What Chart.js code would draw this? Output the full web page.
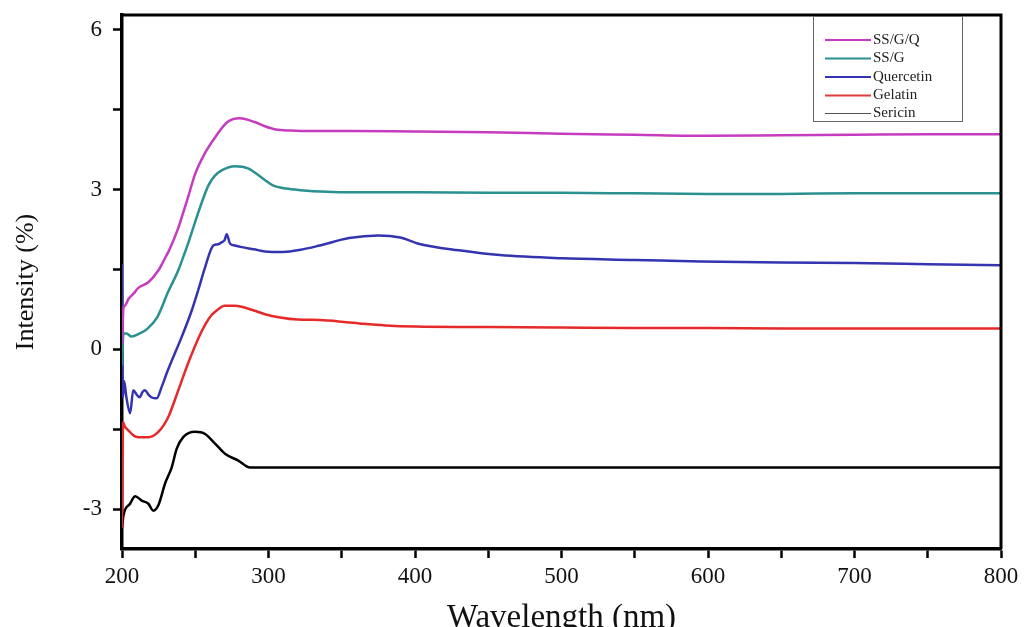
<!DOCTYPE html>
<html>
<head>
<meta charset="utf-8">
<script src="https://cdn.jsdelivr.net/npm/chart.js@4.4.1/dist/chart.umd.min.js"></script>
<style>
  body { margin: 0; background: #fff; }
  canvas { display: block; }
</style>
</head>
<body>
<canvas id="chart" width="1025" height="627"></canvas>
<script>
// wavelength (nm) / intensity (%)
const ssgqWl = [200, 201, 202, 204.5, 208, 211, 218, 225, 229.5, 232, 238, 241, 245, 250, 256.5, 263.5, 272, 280.5, 290.5, 297.5, 305, 315, 330, 356, 400, 450, 500, 550, 600, 650, 700, 750, 800];
const ssgq = [0.1, 0.78, 0.82, 0.95, 1.05, 1.15, 1.26, 1.49, 1.72, 1.85, 2.25, 2.5, 2.85, 3.3, 3.68, 3.98, 4.27, 4.34, 4.27, 4.19, 4.13, 4.11, 4.1, 4.1, 4.09, 4.08, 4.05, 4.03, 4.01, 4.02, 4.03, 4.04, 4.04];

const ssgWl = [200, 201, 203, 206.5, 212, 217, 224, 231.5, 238.5, 242, 245.5, 250, 255, 259, 263, 268, 277, 286, 297.5, 303, 312, 322, 340, 356, 400, 450, 500, 550, 600, 650, 700, 750, 800];
const ssg = [-0.3, 0.3, 0.3, 0.24, 0.3, 0.38, 0.6, 1.08, 1.49, 1.75, 2.02, 2.4, 2.8, 3.08, 3.25, 3.36, 3.44, 3.4, 3.18, 3.08, 3.02, 2.99, 2.96, 2.95, 2.95, 2.94, 2.94, 2.93, 2.92, 2.92, 2.93, 2.93, 2.93];

const querWl = [200, 200.6, 201.5, 203, 205.5, 207.7, 210, 212, 214, 215.7, 218, 220, 223.7, 227, 230.5, 234, 240.7, 247.6, 252, 256.7, 262.3, 265, 268, 270, 271.5, 273.7, 277, 281.7, 290, 297.6, 310, 322, 335, 355, 375, 390, 403, 430, 458, 500, 550, 595, 650, 700, 750, 800];
const quer = [1.6, -0.9, -0.6, -0.9, -1.2, -0.77, -0.85, -0.9, -0.8, -0.77, -0.85, -0.9, -0.92, -0.71, -0.45, -0.21, 0.23, 0.73, 1.11, 1.54, 1.95, 1.97, 2.01, 2.05, 2.16, 1.99, 1.95, 1.92, 1.88, 1.84, 1.83, 1.87, 1.95, 2.09, 2.14, 2.1, 1.98, 1.86, 1.77, 1.71, 1.68, 1.65, 1.63, 1.62, 1.6, 1.58];

const gelWl = [200, 200.7, 202, 204.3, 208, 211, 218, 224.8, 231.6, 238.4, 245, 252, 256.5, 261, 265.5, 270, 277, 281.7, 290, 297.6, 308, 320, 335, 350, 365, 380, 400, 450, 500, 550, 600, 650, 700, 750, 800];
const gel = [-3.35, -1.37, -1.45, -1.52, -1.62, -1.65, -1.65, -1.55, -1.27, -0.77, -0.27, 0.2, 0.45, 0.64, 0.75, 0.82, 0.82, 0.8, 0.73, 0.66, 0.6, 0.56, 0.55, 0.52, 0.48, 0.45, 0.43, 0.42, 0.41, 0.4, 0.4, 0.39, 0.39, 0.39, 0.39];

const serWl = [200, 201, 205.5, 209, 213.4, 218, 221.4, 224.8, 229.4, 234, 237.3, 241.8, 249.8, 256.7, 263.5, 270.3, 279.4, 287.4, 300, 400, 500, 600, 700, 800];
const ser = [-3.35, -3.12, -2.9, -2.76, -2.84, -2.9, -3.03, -2.93, -2.52, -2.21, -1.87, -1.65, -1.55, -1.59, -1.77, -1.96, -2.09, -2.22, -2.22, -2.22, -2.22, -2.22, -2.22, -2.22];

const seriesNames = ['SS/G/Q', 'SS/G', 'Quercetin', 'Gelatin', 'Sericin'];
const seriesColors = ['#c63cc0', '#2a9090', '#3434b0', '#e62a2a', '#000000'];
const legendColors = ['#c63cc0', '#2a9090', '#3434b0', '#e03a3a', '#555555'];

const xTicks = [200, 250, 300, 350, 400, 450, 500, 550, 600, 650, 700, 750, 800];
const xLabels = [200, 300, 400, 500, 600, 700, 800];
const yTicks = [-3, -1.5, 0, 1.5, 3, 4.5, 6];
const yLabels = [-3, 0, 3, 6];

const serif = "'Liberation Serif', 'Times New Roman', serif";

function pts(xs, ys) {
    return xs.map((x, i) => ({ x: x, y: ys[i] }));
}

const allSeries = [[ssgqWl, ssgq], [ssgWl, ssg], [querWl, quer], [gelWl, gel], [serWl, ser]];

const datasets = allSeries.map((s, i) => ({
    label: seriesNames[i],
    data: pts(s[0], s[1]),
    borderColor: seriesColors[i],
    borderWidth: 2.5,
    pointRadius: 0,
    fill: false,
    cubicInterpolationMode: 'monotone'
}));

// frame round the plot and the legend box
const framePlugin = {
    id: 'frame',
    afterDatasetsDraw(chart) {
        const ctx = chart.ctx;
        const a = chart.chartArea;
        ctx.save();
        ctx.strokeStyle = '#000';
        ctx.lineWidth = 3;
        ctx.beginPath();
        ctx.moveTo(a.left, a.top);
        ctx.lineTo(a.right, a.top);
        ctx.lineTo(a.right, a.bottom);
        ctx.stroke();

        // legend
        ctx.lineWidth = 1;
        ctx.strokeStyle = '#666';
        ctx.strokeRect(813.5, 16.5, 149, 105);
        ctx.font = '15px ' + serif;
        ctx.textBaseline = 'middle';
        ctx.fillStyle = '#222';
        const rows = [40, 58.5, 77, 95.5, 113.5];
        chart.data.datasets.forEach((d, i) => {
            ctx.strokeStyle = legendColors[i];
            ctx.lineWidth = i === 4 ? 1.2 : 2;
            ctx.beginPath();
            ctx.moveTo(825, rows[i]);
            ctx.lineTo(871, rows[i]);
            ctx.stroke();
            ctx.fillText(d.label, 873, rows[i]);
        });
        ctx.restore();
    }
};

new Chart(document.getElementById('chart').getContext('2d'), {
    type: 'line',
    data: { datasets: datasets },
    options: {
        responsive: false,
        animation: false,
        layout: { padding: { left: 0, top: 15, right: 24, bottom: 0 } },
        plugins: {
            legend: { display: false },
            tooltip: { enabled: false }
        },
        scales: {
            x: {
                type: 'linear',
                min: 200,
                max: 800,
                afterBuildTicks: s => { s.ticks = xTicks.map(v => ({ value: v })); },
                afterFit: s => { s.height = 78; s.paddingLeft = 0; s.paddingRight = 0; },
                grid: { drawOnChartArea: false, drawTicks: true, tickLength: 9, tickWidth: 2.5, tickColor: '#000' },
                border: { display: true, color: '#000', width: 3.5 },
                ticks: {
                    color: '#111',
                    font: { family: serif, size: 23 },
                    padding: 5,
                    maxRotation: 0,
                    autoSkip: false,
                    callback: v => xLabels.includes(v) ? String(v) : ''
                },
                title: {
                    display: true,
                    text: 'Wavelength (nm)',
                    color: '#111',
                    font: { family: serif, size: 33, lineHeight: 0.5 },
                    padding: { top: 0, bottom: 0 }
                }
            },
            y: {
                type: 'linear',
                min: -3.75,
                max: 6.28,
                afterBuildTicks: s => { s.ticks = yTicks.map(v => ({ value: v })); },
                afterFit: s => { s.width = 122; s.paddingTop = 0; s.paddingBottom = 0; },
                grid: { drawOnChartArea: false, drawTicks: true, tickLength: 9, tickWidth: 2.5, tickColor: '#000' },
                border: { display: true, color: '#000', width: 3.5 },
                ticks: {
                    color: '#111',
                    font: { family: serif, size: 23 },
                    padding: 11,
                    autoSkip: false,
                    callback: v => yLabels.includes(v) ? String(v) : ''
                },
                title: {
                    display: true,
                    text: 'Intensity (%)',
                    color: '#111',
                    font: { family: serif, size: 26, lineHeight: 1 },
                    padding: { top: 13, bottom: 0 }
                }
            }
        }
    },
    plugins: [framePlugin]
});
</script>
</body>
</html>
